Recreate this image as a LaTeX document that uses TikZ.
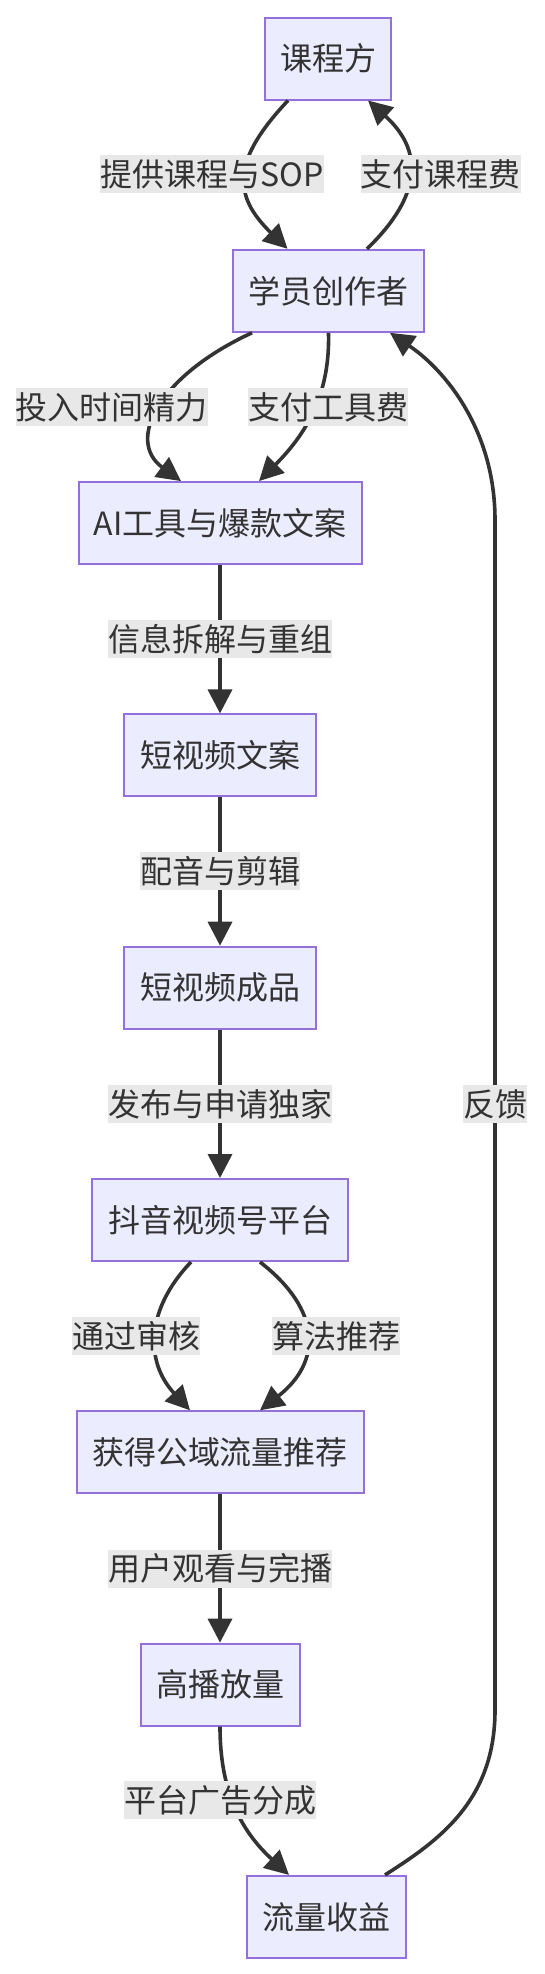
\documentclass[tikz,border=0pt]{standalone}
\usepackage{fontspec}
\setmainfont{Noto Sans CJK SC}
\usetikzlibrary{arrows.meta}
\definecolor{boxfill}{HTML}{ECECFF}
\definecolor{boxline}{HTML}{9370DB}
\definecolor{edgecol}{HTML}{333333}
\definecolor{lblbg}{HTML}{E8E8E8}
\definecolor{txt}{HTML}{333333}
\begin{document}
\begin{tikzpicture}[x=1pt,y=-1pt,
  flowbox/.style={draw=boxline, fill=boxfill, line width=2pt, minimum height=82pt, inner sep=0pt, text=txt, font=\fontsize{32pt}{38pt}\selectfont},
  elabel/.style={fill=lblbg, inner sep=0pt, minimum height=38pt, text=txt, font=\fontsize{32pt}{38pt}\selectfont},
  conn/.style={draw=edgecol, line width=3.6pt, -{Triangle[length=24pt,width=24pt]}},
]
\useasboundingbox (0,0) rectangle (544,1974);

% nodes
\node[flowbox, minimum width=126pt] (p1) at (328,58.5) {课程方};
\node[flowbox, minimum width=191pt] (p2) at (328.5,290.8) {学员创作者};
\node[flowbox, minimum width=283pt] (p3) at (220,523.1) {AI工具与爆款文案};
\node[flowbox, minimum width=191.6pt] (p4) at (220,755.4) {短视频文案};
\node[flowbox, minimum width=191.6pt] (p5) at (220,987.7) {短视频成品};
\node[flowbox, minimum width=255.6pt] (p6) at (220,1220) {抖音视频号平台};
\node[flowbox, minimum width=287pt] (p7) at (220,1452.3) {获得公域流量推荐};
\node[flowbox, minimum width=159pt] (p8) at (220,1684.6) {高播放量};
\node[flowbox, minimum width=159pt] (p9) at (326.5,1916.9) {流量收益};

\coordinate (fbbot) at (495,1710);
\coordinate (fbtop) at (495,520);

% connectors
\draw[conn] ([xshift=-40pt]p1.south) .. controls (232,160) and (232,195) .. ([xshift=-41pt]p2.north);
\draw[conn] ([xshift=38.5pt]p2.north) .. controls (423,195) and (423,150) .. ([xshift=40pt]p1.south);
\draw[conn] ([xshift=-76.5pt]p2.south) .. controls (160,375) and (125,440) .. ([xshift=-39pt]p3.north);
\draw[conn] (p2.south) .. controls (330,390) and (310,430) .. ([xshift=39pt]p3.north);
\draw[conn] (p3.south) -- (p4.north);
\draw[conn] (p4.south) -- (p5.north);
\draw[conn] (p5.south) -- (p6.north);
\draw[conn] ([xshift=-29pt]p6.south) .. controls (145,1310) and (145,1362) .. ([xshift=-30pt]p7.north);
\draw[conn] ([xshift=40pt]p6.south) .. controls (322,1310) and (322,1362) .. ([xshift=40pt]p7.north);
\draw[conn] (p7.south) -- (p8.north);
\draw[conn] (p8.south) .. controls (220,1790) and (240,1830) .. ([xshift=-37.5pt]p9.north);
\draw[conn] ([xshift=58.5pt]p9.north) .. controls (440,1840) and (495,1800) .. (fbbot) -- (fbtop) .. controls (495,430) and (445,370) .. ([xshift=61.5pt]p2.south);

% labels
\node[elabel] (l1) at (212,174) {提供课程与SOP};
\node[elabel] (l2) at (440.6,174) {支付课程费};
\node[elabel] (l3) at (112,407) {投入时间精力};
\node[elabel] (l4) at (328,407) {支付工具费};
\node[elabel] (l5) at (220,639) {信息拆解与重组};
\node[elabel] (l6) at (220,871) {配音与剪辑};
\node[elabel] (l7) at (220,1104) {发布与申请独家};
\node[elabel] (l8) at (495,1104) {反馈};
\node[elabel] (l9) at (136,1336) {通过审核};
\node[elabel] (l10) at (336,1336) {算法推荐};
\node[elabel] (l11) at (220,1568.5) {用户观看与完播};
\node[elabel] (l12) at (220,1800) {平台广告分成};
\end{tikzpicture}
\end{document}
